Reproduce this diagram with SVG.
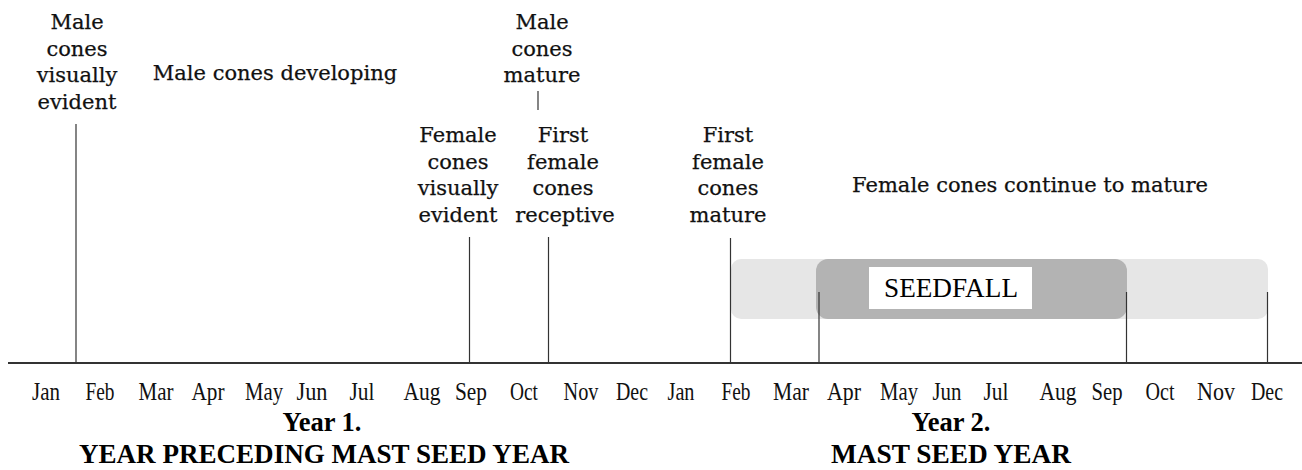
<svg xmlns="http://www.w3.org/2000/svg" width="1302" height="470" viewBox="0 0 1302 470">
<style>
.lbl{font-family:"DejaVu Serif","Liberation Serif",serif;font-size:21px;fill:#111;stroke:#111;stroke-width:0.25;text-anchor:middle}
.mon{font-family:"Liberation Serif",serif;font-size:25px;fill:#111;text-anchor:middle}
.ttl{font-family:"Liberation Serif",serif;font-size:27px;font-weight:bold;fill:#000;text-anchor:middle}
.seed{font-family:"Liberation Serif",serif;font-size:27px;fill:#000;text-anchor:middle}
.ln{stroke:#333;stroke-width:1.2;fill:none}
</style>
<rect width="1302" height="470" fill="#fff"/>
<g id="bars">
<rect x="731" y="259" width="537" height="60" rx="10" fill="#e6e6e6"/>
<rect x="816" y="259" width="311" height="60" rx="12" fill="#b3b3b3"/>
</g>
<g id="seedfall">
<rect x="869" y="267" width="163" height="42" fill="#fff"/>
<text class="seed" x="951" y="297" textLength="134" lengthAdjust="spacingAndGlyphs">SEEDFALL</text>
</g>
<g id="connectors">
<line class="ln" x1="76" y1="124" x2="76" y2="363" style="stroke:#666;stroke-width:1.6"/>
<line class="ln" x1="538" y1="91" x2="538" y2="110"/>
<line class="ln" x1="469.5" y1="237" x2="469.5" y2="363"/>
<line class="ln" x1="548.5" y1="237" x2="548.5" y2="363"/>
<line class="ln" x1="730.5" y1="238" x2="730.5" y2="363"/>
<line class="ln" x1="819" y1="292" x2="819" y2="363"/>
<line class="ln" x1="1126.5" y1="292" x2="1126.5" y2="363"/>
<line class="ln" x1="1267.5" y1="292" x2="1267.5" y2="363"/>
<line x1="8" y1="363" x2="1302" y2="363" stroke="#333" stroke-width="2"/>
</g>
<g id="male-visible">
<text class="lbl" x="77" y="29">Male</text>
<text class="lbl" x="77" y="55.5">cones</text>
<text class="lbl" x="77" y="82">visually</text>
<text class="lbl" x="77" y="108.5">evident</text>
</g>
<g id="male-developing">
<text class="lbl" x="275" y="80">Male cones developing</text>
</g>
<g id="male-mature">
<text class="lbl" x="542" y="29">Male</text>
<text class="lbl" x="542" y="55.5">cones</text>
<text class="lbl" x="542" y="82">mature</text>
</g>
<g id="female-visible">
<text class="lbl" x="458" y="142">Female</text>
<text class="lbl" x="458" y="168.5">cones</text>
<text class="lbl" x="458" y="195">visually</text>
<text class="lbl" x="458" y="221.5">evident</text>
</g>
<g id="female-receptive">
<text class="lbl" x="563" y="142">First</text>
<text class="lbl" x="563" y="168.5">female</text>
<text class="lbl" x="563" y="195">cones</text>
<text class="lbl" x="565" y="221.5">receptive</text>
</g>
<g id="female-mature">
<text class="lbl" x="728" y="142">First</text>
<text class="lbl" x="728" y="168.5">female</text>
<text class="lbl" x="728" y="195">cones</text>
<text class="lbl" x="728" y="221.5">mature</text>
</g>
<g id="female-continue">
<text class="lbl" x="1030" y="192">Female cones continue to mature</text>
</g>
<g id="months">
<text class="mon" x="46" y="400" textLength="28" lengthAdjust="spacingAndGlyphs">Jan</text>
<text class="mon" x="100" y="400" textLength="29" lengthAdjust="spacingAndGlyphs">Feb</text>
<text class="mon" x="156" y="400" textLength="35" lengthAdjust="spacingAndGlyphs">Mar</text>
<text class="mon" x="208" y="400" textLength="33" lengthAdjust="spacingAndGlyphs">Apr</text>
<text class="mon" x="264" y="400" textLength="38" lengthAdjust="spacingAndGlyphs">May</text>
<text class="mon" x="312" y="400" textLength="31" lengthAdjust="spacingAndGlyphs">Jun</text>
<text class="mon" x="362" y="400" textLength="25" lengthAdjust="spacingAndGlyphs">Jul</text>
<text class="mon" x="422" y="400" textLength="37" lengthAdjust="spacingAndGlyphs">Aug</text>
<text class="mon" x="471" y="400" textLength="32" lengthAdjust="spacingAndGlyphs">Sep</text>
<text class="mon" x="524" y="400" textLength="28" lengthAdjust="spacingAndGlyphs">Oct</text>
<text class="mon" x="581" y="400" textLength="35" lengthAdjust="spacingAndGlyphs">Nov</text>
<text class="mon" x="632" y="400" textLength="32" lengthAdjust="spacingAndGlyphs">Dec</text>
<text class="mon" x="681" y="400" textLength="27" lengthAdjust="spacingAndGlyphs">Jan</text>
<text class="mon" x="736" y="400" textLength="29" lengthAdjust="spacingAndGlyphs">Feb</text>
<text class="mon" x="791" y="400" textLength="36" lengthAdjust="spacingAndGlyphs">Mar</text>
<text class="mon" x="844" y="400" textLength="34" lengthAdjust="spacingAndGlyphs">Apr</text>
<text class="mon" x="899" y="400" textLength="38" lengthAdjust="spacingAndGlyphs">May</text>
<text class="mon" x="947" y="400" textLength="29" lengthAdjust="spacingAndGlyphs">Jun</text>
<text class="mon" x="996" y="400" textLength="25" lengthAdjust="spacingAndGlyphs">Jul</text>
<text class="mon" x="1058" y="400" textLength="37" lengthAdjust="spacingAndGlyphs">Aug</text>
<text class="mon" x="1107" y="400" textLength="31" lengthAdjust="spacingAndGlyphs">Sep</text>
<text class="mon" x="1160" y="400" textLength="29" lengthAdjust="spacingAndGlyphs">Oct</text>
<text class="mon" x="1216" y="400" textLength="38" lengthAdjust="spacingAndGlyphs">Nov</text>
<text class="mon" x="1267" y="400" textLength="32" lengthAdjust="spacingAndGlyphs">Dec</text>
</g>
<g id="year1">
<text class="ttl" x="322" y="431" style="font-size:28px" textLength="79" lengthAdjust="spacingAndGlyphs">Year 1.</text>
<text class="ttl" x="324" y="463" textLength="490" lengthAdjust="spacingAndGlyphs">YEAR PRECEDING MAST SEED YEAR</text>
</g>
<g id="year2">
<text class="ttl" x="951" y="431" style="font-size:28px" textLength="79" lengthAdjust="spacingAndGlyphs">Year 2.</text>
<text class="ttl" x="951" y="463" textLength="240" lengthAdjust="spacingAndGlyphs">MAST SEED YEAR</text>
</g>
</svg>
